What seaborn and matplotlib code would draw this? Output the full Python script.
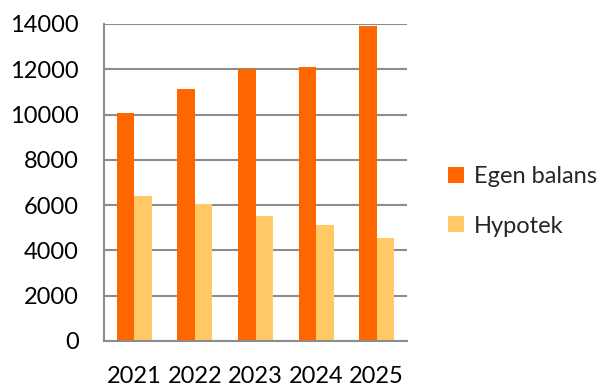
import pandas as pd
import matplotlib
matplotlib.use("Agg")
import matplotlib.pyplot as plt
import seaborn as sns

years = ["2021", "2022", "2023", "2024", "2025"]
egen_balans = [10050, 11150, 12000, 12100, 13900]
hypotek = [6400, 6050, 5500, 5100, 4550]
series_names = ["Egen balans", "Hypotek"]
colors = ["#FF6600", "#FFC966"]
yticks = [0, 2000, 4000, 6000, 8000, 10000, 12000, 14000]


def build_frame():
    rows = []
    for year, e, h in zip(years, egen_balans, hypotek):
        rows.append({"year": year, "serie": series_names[0], "value": e})
        rows.append({"year": year, "serie": series_names[1], "value": h})
    return pd.DataFrame(rows)


def main():
    df = build_frame()
    sns.set_style("white")
    plt.rcParams["font.family"] = ["Lato", "DejaVu Sans"]

    fig = plt.figure(figsize=(6.03, 3.87), dpi=100)
    ax = fig.add_axes([0.1725, 0.119, 0.5025, 0.819])

    sns.barplot(data=df, x="year", y="value", hue="serie", palette=colors,
                width=0.58, gap=0, saturation=1, ax=ax, linewidth=0)

    ax.set_ylim(0, 14000)
    ax.set_yticks(yticks)
    ax.set_xlim(-0.5, 4.5)
    ax.set_xlabel("")
    ax.set_ylabel("")
    ax.grid(axis="y", color="#8C8C8C", linewidth=1.5)
    ax.set_axisbelow(True)
    for side in ["top", "right"]:
        ax.spines[side].set_visible(False)
    for side in ["left", "bottom"]:
        ax.spines[side].set_color("#8C8C8C")
        ax.spines[side].set_linewidth(1.5)
    ax.tick_params(axis="both", length=0, labelsize=17, colors="black")
    ax.tick_params(axis="y", pad=18)
    ax.tick_params(axis="x", pad=18)

    handles, labels = ax.get_legend_handles_labels()
    ax.legend(handles, labels, loc="center left", bbox_to_anchor=(1.066, 0.44),
              frameon=False, fontsize=17, handlelength=0.65, handleheight=0.65,
              handletextpad=0.45, labelspacing=1.2)

    fig.savefig("out.png", dpi=100)


if __name__ == "__main__":
    main()
